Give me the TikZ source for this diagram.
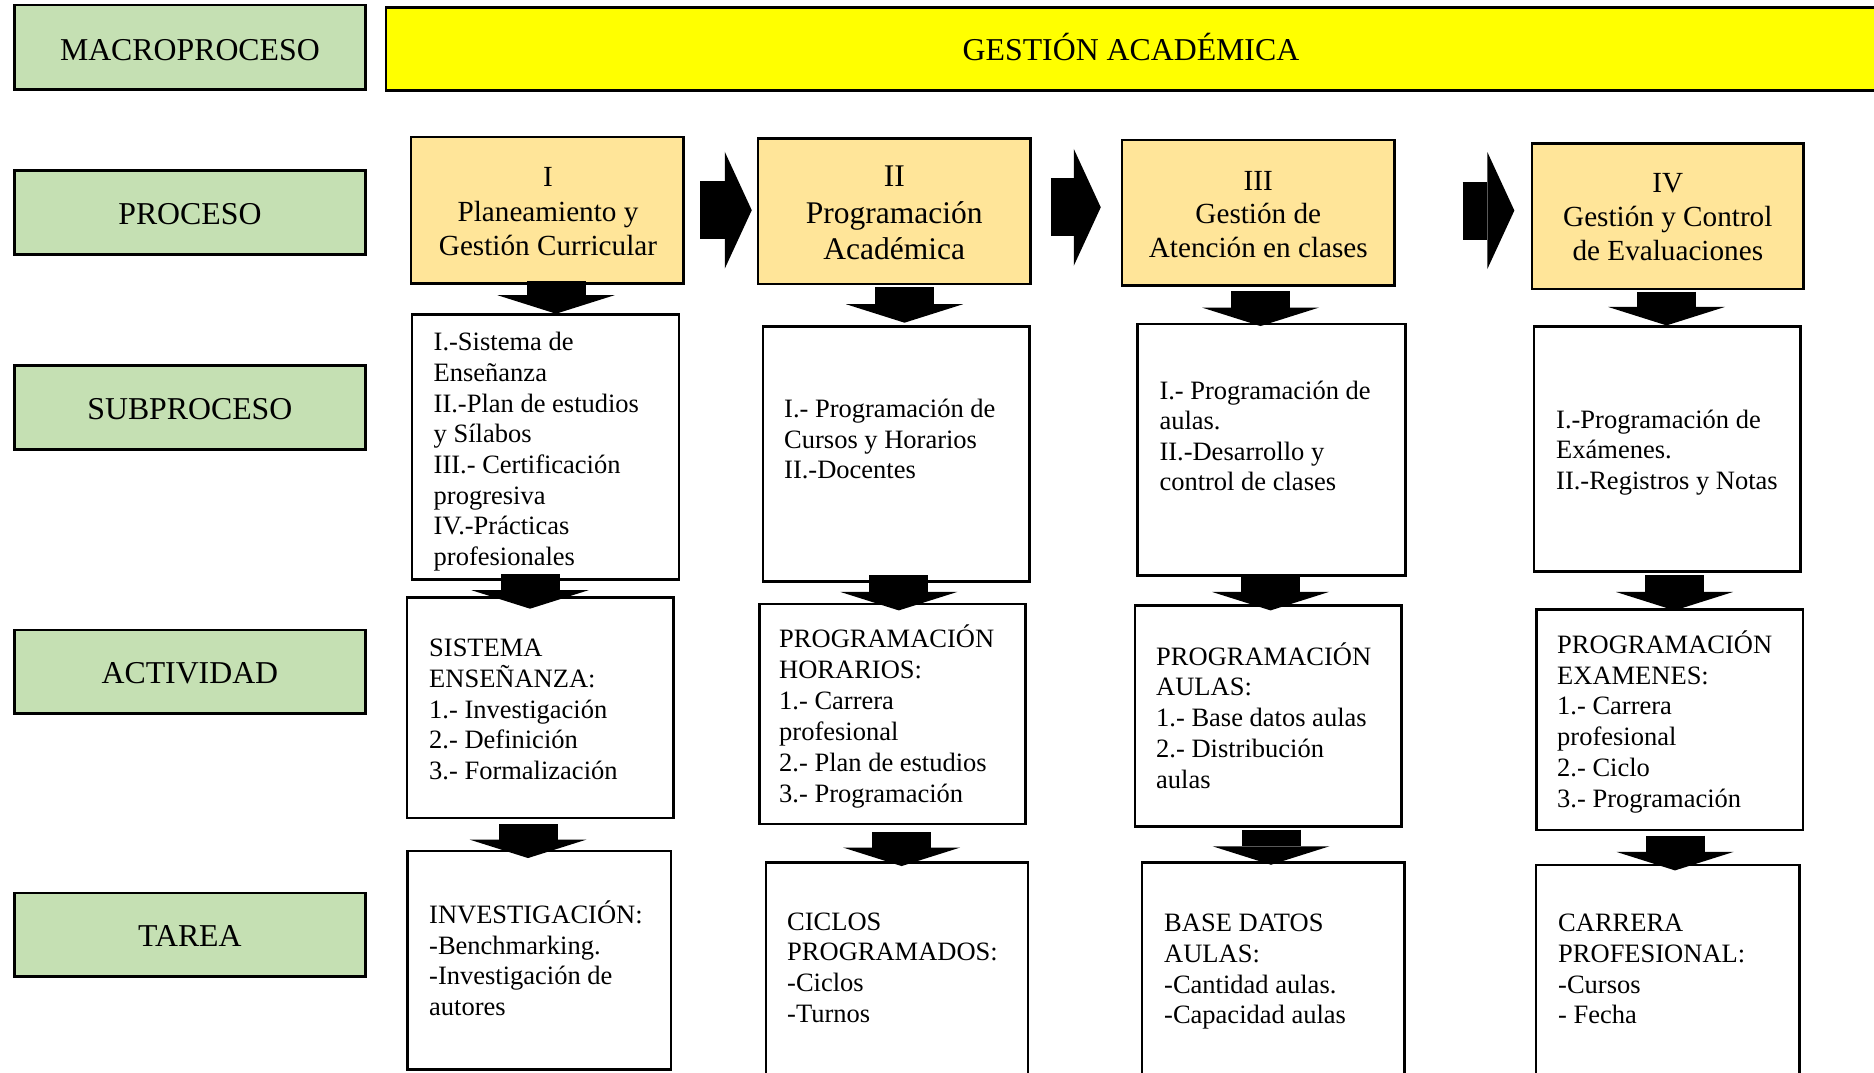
\documentclass[tikz,border=0pt]{standalone}
\usepackage{fontspec}
\setmainfont{Liberation Serif}
\usetikzlibrary{arrows.meta}

\definecolor{levelgreen}{HTML}{C5E0B3}
\definecolor{processgold}{HTML}{FFE599}
\definecolor{macroyellow}{HTML}{FFFF00}

% stacked lines with a fixed baseline pitch; the stack's baseline is that of its first line
\newcommand\leftstack[1]{\vtop{\lineskiplimit=-\maxdimen\lineskip=0pt\halign{##\hfil\cr#1\crcr}}}
\newcommand\centerstack[1]{\vtop{\lineskiplimit=-\maxdimen\lineskip=0pt\halign{\hfil##\hfil\cr#1\crcr}}}

\tikzset{
  frame/.style={draw=black, line width=2.6pt, inner sep=0pt},
  levelbox/.style={frame, fill=levelgreen, minimum width=351.2pt, minimum height=84pt,
    font=\fontsize{31.8}{36}\selectfont, text height=23.4pt, text depth=0pt},
  macrobox/.style={frame, fill=macroyellow,
    font=\fontsize{31.8}{36}\selectfont, text height=23.4pt, text depth=0pt},
  processbox/.style={frame, fill=processgold},
  whitebox/.style={frame, fill=white},
  bodytext/.style={anchor=base west, inner sep=0pt, font=\fontsize{26.5}{#1}\selectfont},
  headtext/.style={anchor=base, inner sep=0pt, font=\fontsize{29.2}{#1}\selectfont},
  downarrow/.style={line width=59pt, -{Triangle[line width=0pt, length=18.5pt, width=117pt]}},
  rightarrow/.style={line width=58pt, -{Triangle[line width=0pt, length=27pt, width=117pt]}},
}

\begin{document}
\begin{tikzpicture}[x=1pt, y=-1pt]
\useasboundingbox (0,0) rectangle (1874,1072);

% level labels
\node[levelbox, minimum height=84.5pt, text height=25.8pt] (lmacro) at (189.9, 47.3) {MACROPROCESO};
\node[levelbox] (lproc)  at (189.9, 212.5) {PROCESO};
\node[levelbox, minimum height=83.7pt] (lsub)   at (189.9, 407.5) {SUBPROCESO};
\node[levelbox, minimum height=83.5pt] (lact)   at (189.9, 671.8) {ACTIVIDAD};
\node[levelbox, minimum height=83.5pt] (ltarea) at (189.9, 934.8) {TAREA};

% macroprocess banner
\node[macrobox, minimum width=1490pt, minimum height=83pt] (macro) at (1131, 49) {GESTIÓN ACADÉMICA};

% processes
\node[processbox, minimum width=272.5pt, minimum height=146.3pt] (p1) at (547.3, 210.2) {};
\node[processbox, minimum width=272.5pt, minimum height=145.5pt] (p2) at (894.3, 211.3) {};
\node[processbox, minimum width=272.5pt, minimum height=145.7pt] (p3) at (1258.3, 212.9) {};
\node[processbox, minimum width=271.5pt, minimum height=145.7pt] (p4) at (1667.8, 216.2) {};

\node[headtext=34.4] (p1t) at (548, 186.7) {\centerstack{I\cr Planeamiento y\cr Gestión Curricular}};
\node[headtext=36.6, font=\fontsize{31.5}{36.6}\selectfont] (p2t) at (894.3, 186.7) {\centerstack{II\cr Programación\cr Académica}};
\node[headtext=33.7] (p3t) at (1258.3, 190) {\centerstack{III\cr Gestión de\cr Atención en clases}};
\node[headtext=34] (p4t) at (1667.8, 192.7) {\centerstack{IV\cr Gestión y Control\cr de Evaluaciones}};

% subprocesses
\node[whitebox, minimum width=267pt,   minimum height=265.2pt] (s1) at (545.5, 446.9) {};
\node[whitebox, minimum width=266.5pt, minimum height=255pt]   (s2) at (896.3, 454.2) {};
\node[whitebox, minimum width=268.4pt, minimum height=251.7pt] (s3) at (1271.5, 449.9) {};
\node[whitebox, minimum width=266.7pt, minimum height=245pt]   (s4) at (1667.4, 449.2) {};

\node[bodytext=30.7] (s1t) at (433.5, 350.7) {\leftstack{I.-Sistema de\cr Enseñanza\cr II.-Plan de estudios\cr y Sílabos\cr III.- Certificación\cr progresiva\cr IV.-Prácticas\cr profesionales}};
\node[bodytext=30.7] (s2t) at (784, 417.3) {\leftstack{I.- Programación de\cr Cursos y Horarios\cr II.-Docentes}};
\node[bodytext=30.5] (s3t) at (1159.3, 399.3) {\leftstack{I.- Programación de\cr aulas.\cr II.-Desarrollo y\cr control de clases}};
\node[bodytext=30.5] (s4t) at (1556, 428.3) {\leftstack{I.-Programación de\cr Exámenes.\cr II.-Registros y Notas}};

% activities
\node[whitebox, minimum width=266.3pt, minimum height=220.8pt] (a1) at (540.2, 707.6) {};
\node[whitebox, minimum width=265.8pt, minimum height=220pt]   (a2) at (892.3, 714) {};
\node[whitebox, minimum width=266.7pt, minimum height=221pt]   (a3) at (1268.4, 716) {};
\node[whitebox, minimum width=266.5pt, minimum height=220.5pt] (a4) at (1669.8, 719.8) {};

\node[bodytext=30.8] (a1t) at (429, 656.5) {\leftstack{SISTEMA\cr ENSEÑANZA:\cr 1.- Investigación\cr 2.- Definición\cr 3.- Formalización}};
\node[bodytext=31] (a2t) at (779, 647.8) {\leftstack{PROGRAMACIÓN\cr HORARIOS:\cr 1.- Carrera\cr profesional\cr 2.- Plan de estudios\cr 3.- Programación}};
\node[bodytext=30.8] (a3t) at (1156, 665) {\leftstack{PROGRAMACIÓN\cr AULAS:\cr 1.- Base datos aulas\cr 2.- Distribución\cr aulas}};
\node[bodytext=30.8] (a4t) at (1557, 653.3) {\leftstack{PROGRAMACIÓN\cr EXAMENES:\cr 1.- Carrera\cr profesional\cr 2.- Ciclo\cr 3.- Programación}};

% tasks
\node[whitebox, minimum width=263.3pt, minimum height=218.3pt] (t1) at (539.4, 960.2) {};
\node[whitebox, minimum width=262pt,   minimum height=222.3pt] (t2) at (897, 973.9) {};
\node[whitebox, minimum width=262.5pt, minimum height=222.3pt] (t3) at (1273.3, 973.9) {};
\node[whitebox, minimum width=263.6pt, minimum height=220pt]   (t4) at (1667.6, 975) {};

\node[bodytext=30.8] (t1t) at (429, 923.3) {\leftstack{INVESTIGACIÓN:\cr -Benchmarking.\cr -Investigación de\cr autores}};
\node[bodytext=30.8] (t2t) at (787, 930) {\leftstack{CICLOS\cr PROGRAMADOS:\cr -Ciclos\cr -Turnos}};
\node[bodytext=30.7] (t3t) at (1164, 931.7) {\leftstack{BASE DATOS\cr AULAS:\cr -Cantidad aulas.\cr -Capacidad aulas}};
\node[bodytext=30.7] (t4t) at (1558, 931.7) {\leftstack{CARRERA\cr PROFESIONAL:\cr -Cursos\cr - Fecha}};

% flow between processes
\draw[rightarrow] ([xshift=15.5pt]p1.east) -- ([xshift=-5pt]p2.west |- p1.east);
\draw[rightarrow] ([xshift=19pt, yshift=4pt]p2.east) -- ([xshift=-20pt, yshift=4pt]p3.west |- p2.east);
\draw[rightarrow] ([xshift=66.8pt, yshift=2.4pt]p3.east) -- ([xshift=-16.4pt, yshift=2.4pt]p4.west |- p3.east);

% process -> subprocess
\draw[downarrow] ([xshift=8.7pt, yshift=3.3pt]p1.south) -- ([xshift=10.5pt, yshift=-0.7pt]s1.north);
\draw[downarrow] ([xshift=10.2pt, yshift=-2pt]p2.south) -- ([xshift=8.2pt, yshift=2.7pt]s2.north);
\draw[downarrow] ([xshift=2.2pt, yshift=-4.3pt]p3.south) -- ([xshift=-11pt, yshift=-3.3pt]s3.north);
\draw[downarrow] ([xshift=-1.3pt, yshift=-1.5pt]p4.south) -- ([xshift=-0.9pt]s4.north);

% subprocess -> activity
\draw[downarrow] ([xshift=-15.5pt, yshift=6.8pt]s1.south) -- ([xshift=-10.2pt, yshift=-12.8pt]a1.north);
\draw[downarrow] ([xshift=2.5pt, yshift=7.7pt]s2.south) -- ([xshift=6.5pt, yshift=-7.7pt]a2.north);
\draw[downarrow] ([xshift=-1pt, yshift=-0.3pt]s3.south) -- ([xshift=2.1pt, yshift=-6.2pt]a3.north);
\draw[downarrow] ([xshift=7.1pt, yshift=-2.3pt]s4.south) -- ([xshift=4.7pt, yshift=-2.2pt]a4.north);

% activity -> task
\draw[downarrow] ([xshift=-12.2pt, yshift=-4.7pt]a1.south) -- ([xshift=-11.4pt, yshift=-8.3pt]t1.north);
\draw[downarrow] ([xshift=9.3pt, yshift=-6.7pt]a2.south) -- ([xshift=4.6pt, yshift=-4.6pt]t2.north);
\draw[downarrow] ([xshift=2.6pt, yshift=-1.8pt]a3.south) -- ([xshift=-2.3pt, yshift=-3.3pt]t3.north);
\draw[downarrow] ([xshift=5.2pt, yshift=-4.3pt]a4.south) -- ([xshift=7.4pt, yshift=-6.7pt]t4.north);
\end{tikzpicture}
\end{document}
